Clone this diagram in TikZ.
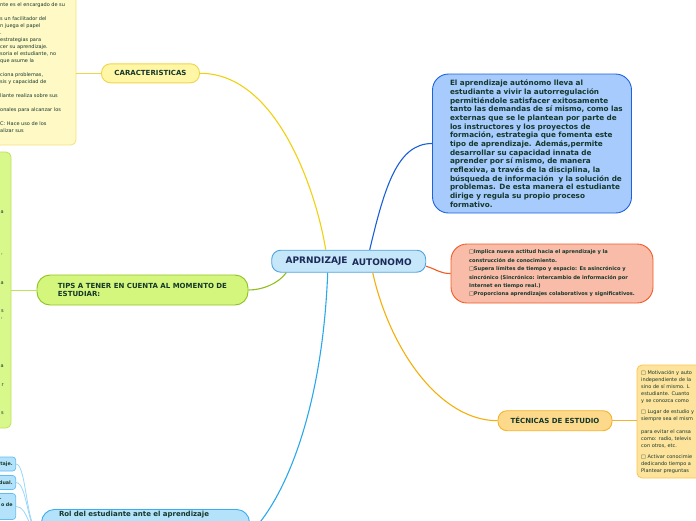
\documentclass[tikz,border=0pt]{standalone}
\usepackage{fontspec}
\setmainfont{DejaVu Sans}
\usepackage{tikz}
\usepackage{xcolor}

\definecolor{inkgreen}{HTML}{15382B}
\definecolor{inknavy}{HTML}{1B2A58}
\definecolor{centrofill}{HTML}{C6E6FA}
\definecolor{centrodraw}{HTML}{4EA4DC}
\definecolor{azulfill}{HTML}{A6CBFC}
\definecolor{azuldraw}{HTML}{1D62DE}
\definecolor{rojofill}{HTML}{F8BCA9}
\definecolor{rojodraw}{HTML}{F25A28}
\definecolor{amarillofill}{HTML}{FFF6A6}
\definecolor{amarillodraw}{HTML}{EFD54A}
\definecolor{notaamarilla}{HTML}{FFF9C6}
\definecolor{notaamarilladraw}{HTML}{F3E17E}
\definecolor{verdefill}{HTML}{D4F67C}
\definecolor{verdedraw}{HTML}{8DC320}
\definecolor{notaverdefill}{HTML}{D8F88C}
\definecolor{notaverdedraw}{HTML}{BCE25E}
\definecolor{naranjafill}{HTML}{FDD98C}
\definecolor{naranjadraw}{HTML}{F4B32A}
\definecolor{notanaranja}{HTML}{FEE39C}
\definecolor{notanaranjadraw}{HTML}{F6C650}
\definecolor{celestefill}{HTML}{B4E2FB}
\definecolor{celestedraw}{HTML}{37AEF0}
\definecolor{lineaamarilla}{HTML}{F0D10E}
\definecolor{lineaazul}{HTML}{1B5FD6}
\definecolor{linearoja}{HTML}{F05A22}
\definecolor{lineanaranja}{HTML}{F5AE0A}
\definecolor{lineaverde}{HTML}{8DBE1B}
\definecolor{lineaceleste}{HTML}{2AA8EC}

\tikzset{
  tema/.style={draw, line width=0.9pt, rounded corners=9pt, text=inkgreen, inner sep=0pt,
    font=\bfseries\fontsize{7}{8.6}\selectfont},
  nota/.style={draw, line width=0.8pt, rounded corners=5pt},
  notatexto/.style={inner sep=0pt, align=left, text=inkgreen, font=\fontsize{5}{7}\selectfont},
  cajita/.style={draw=celestedraw!80, fill=celestefill, line width=0.7pt, rounded corners=3pt,
    inner xsep=3pt, inner ysep=0pt, text width=40pt, align=right, anchor=east, text=inkgreen,
    font=\bfseries\fontsize{4.8}{7}\selectfont},
  rama/.style={line width=1.1pt},
  ramita/.style={line width=0.8pt},
}

\begin{document}
\begin{tikzpicture}[x=1pt,y=-1pt]
\useasboundingbox (0,0) rectangle (696,520);
\clip (0,0) rectangle (696,520);

% nodo central
\node[tema, fill=centrofill, draw=centrodraw, minimum width=154pt, minimum height=22pt, text=inknavy,
  font=\bfseries\fontsize{9}{10}\selectfont] (centro) at (348.7,261.2) {APRNDIZAJE\, \raisebox{-1.5pt}{AUTONOMO}};

% definicion
\node[tema, fill=azulfill, draw=azuldraw, rounded corners=16pt, minimum width=199pt, minimum height=139pt,
  text width=188pt, align=left, font=\bfseries\fontsize{7.25}{8.67}\selectfont] (definicion) at (532,143.5)
  {\leftskip=12pt El aprendizaje autónomo lleva al\\
   estudiante a vivir la autorregulación\\
   permitiéndole satisfacer exitosamente\\
   tanto las demandas de sí mismo, como las\\
   externas que se le plantean por parte de\\
   los instructores y los proyectos de\\
   formación, estrategia que fomenta este\\
   tipo de aprendizaje. Además,permite\\
   desarrollar su capacidad innata de\\
   aprender por sí mismo, de manera\\
   reflexiva, a través de la disciplina, la\\
   búsqueda de información\ \ y la solución de\\
   problemas. De esta manera el estudiante\\
   dirige y regula su propio proceso\\
   \hspace*{12pt}formativo.};

% rasgos
\node[tema, fill=rojofill, draw=rojodraw, rounded corners=16pt, minimum width=202pt, minimum height=59pt,
  align=left, font=\bfseries\fontsize{5.1}{8.4}\selectfont] (rasgos) at (552,273.5)
  {□Implica nueva actitud hacia el aprendizaje y la\\
   construcción de conocimiento.\\
   □Supera límites de tiempo y espacio: Es asincrónico y\\
   sincrónico (Sincrónico: intercambio de información por\\
   Internet en tiempo real.)\\
   □Proporciona aprendizajes colaborativos y significativos.};

% caracteristicas
\node[tema, fill=amarillofill, draw=amarillodraw, minimum width=98pt, minimum height=19pt] (caracteristicas) at (150.5,73.3) {CARACTERISTICAS};
\node[nota, fill=notaamarilla, draw=notaamarilladraw, minimum width=106pt, minimum height=165pt] (notacarac) at (23,62.5) {};
\node[notatexto, anchor=north west] (textocarac) at (0,2.6)
  {nte es el encargado de su\\[7pt]
   s un facilitador del\\
   n juega el papel\\
   .\\
   estrategias para\\
   cer su aprendizaje.\\
   soria el estudiante, no\\
   que asume la\\[7pt]
   ciona problemas,\\
   sis y capacidad de\\[7pt]
   liante realiza sobre sus\\[7pt]
   onales para alcanzar los\\[7pt]
   C: Hace uso de los\\
   alizar sus};

% tips
\node[tema, fill=verdefill, draw=verdedraw, rounded corners=13pt, minimum width=211pt, minimum height=30pt,
  align=left] (tips) at (142.5,290) {TIPS A TENER EN CUENTA AL MOMENTO DE\\ESTUDIAR:};
\node[nota, fill=notaverdefill, draw=notaverdedraw, minimum width=51pt, minimum height=276pt] (notatips) at (-14.5,290) {};
\node[notatexto, anchor=east] (tipsA) at (4,212) {a};
\node[notatexto, anchor=east] (tipsB) at (3,256) {'};
\node[notatexto, anchor=east] (tipsC) at (4,283) {a};
\node[notatexto, anchor=east] (tipsD) at (4,311) {s};
\node[notatexto, anchor=east] (tipsE) at (3,318) {,};
\node[notatexto, anchor=east] (tipsF) at (4,366) {a};
\node[notatexto, anchor=east] (tipsG) at (4,385) {r};
\node[notatexto, anchor=east] (tipsH) at (4,413) {s};

% tecnicas
\node[tema, fill=naranjafill, draw=naranjadraw, minimum width=114pt, minimum height=20pt] (tecnicas) at (555,420.7) {TÉCNICAS DE ESTUDIO};
\node[nota, fill=notanaranja, draw=notanaranjadraw, minimum width=83pt, minimum height=113pt] (notatec) at (678.5,421.5) {};
\node[notatexto, anchor=north west] (textotec) at (641,370.3)
  {□ Motivación y auto\\
   independiente de la\\
   sino de sí mismo. L\\
   estudiante. Cuanto\\
   y se conozca como\\[3.8pt]
   □ Lugar de estudio y\\
   siempre sea el mism\\[5.8pt]
   para evitar el cansa\\
   como: radio, televis\\
   con otros, etc.\\[4.8pt]
   □ Activar conocimie\\
   dedicando tiempo a\\
   Plantear preguntas};

% rol del estudiante
\node[tema, fill=celestefill, draw=celestedraw, rounded corners=13pt, anchor=north, minimum width=208pt,
  text width=173pt, align=left, text height=7.5pt, text depth=40pt] (rol) at (145.5,509)
  {Rol del estudiante ante el aprendizaje};
\node[cajita, minimum height=14pt] (cajaA) at (16,464) {taje.};
\node[cajita, minimum height=14pt] (cajaB) at (16,482.5) {dual.};
\node[cajita, minimum height=26pt] (cajaC) at (16,506.5) {.\rule{11pt}{0pt}\\o de\\~};

% ramas
\draw[rama, lineaamarilla] (caracteristicas.east) .. controls (280,73) and (318,200) .. ([xshift=-23pt]centro.north);
\draw[rama, lineaazul] ([xshift=21pt]centro.north) .. controls (385,185) and (398,143.5) .. (definicion.west);
\draw[rama, linearoja] ([yshift=-5pt]centro.east) .. controls (438,270) and (440,273.5) .. (rasgos.west);
\draw[rama, lineanaranja] ([xshift=24pt]centro.south) .. controls (390,350) and (440,420.7) .. (tecnicas.west);
\draw[rama, lineaceleste] ([xshift=-21pt]centro.south) .. controls (322,420) and (280,505) .. (rol.east);
\draw[rama, lineaverde] ([xshift=15pt]centro.south west) .. controls (278,284) and (262,290) .. (tips.east);

\draw[ramita, amarillodraw] (caracteristicas.west) -- (notacarac.east |- caracteristicas.west);
\draw[ramita, notaverdedraw] (tips.west) -- (notatips.east |- tips.west);
\draw[ramita, naranjadraw] (tecnicas.east) -- (notatec.west |- tecnicas.east);
\draw[ramita, celestedraw!50] (cajaA.east) .. controls (27,464) and (26,535) .. (rol.west);
\draw[ramita, celestedraw!50] (cajaB.east) .. controls (28,482.5) and (27,535) .. (rol.west);
\draw[ramita, celestedraw!50] (cajaC.east) .. controls (29,506.5) and (28,535) .. (rol.west);
\end{tikzpicture}
\end{document}
